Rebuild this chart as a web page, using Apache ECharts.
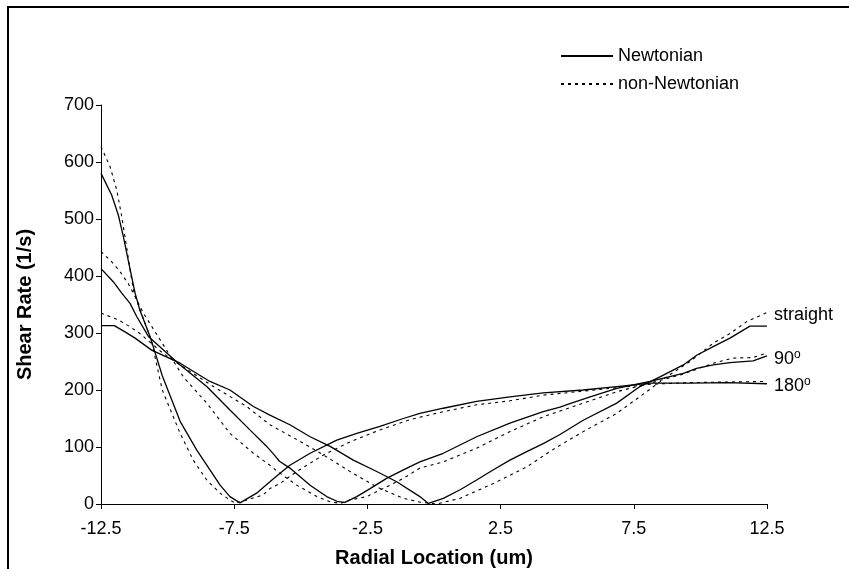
<!DOCTYPE html>
<html>
<head>
<meta charset="utf-8">
<script src="https://cdn.jsdelivr.net/npm/echarts@6/dist/echarts.min.js"></script>
<style>
html,body{margin:0;padding:0;background:#fff;}
#chart{width:849px;height:569px;}
</style>
</head>
<body>
<div id="chart"></div>
<script>
// ---- data ----
const xTicks = [-12.5, -7.5, -2.5, 2.5, 7.5, 12.5];
const legendNames = ['Newtonian', 'non-Newtonian'];
const curveLabels = ['straight', '90{s|o}', '180{s|o}'];

const straightNewtX = [-12.5,-12.0,-11.6,-11.22,-10.6,-9.53,-8.41,-7.66,-6.78,-6.16,-5.41,-4.65,-3.9,-3.03,-2.15,-1.4,-0.53,-0.21,0.35,0.98,1.6,2.23,2.85,3.48,4.1,4.73,5.6,6.86,7.73,8.48,9.36,9.86,10.48,11.11,11.86,12.5];
const straightNewtY = [313,313,302,291,270,247,215,200,171,156,139,118,101,77,57,39,13,1,10,25,42,60,77,92,106,122,147,177,206,223,244,261,276,291,312,312];

const straightNonX = [-12.5,-11.85,-11.41,-11.04,-10.16,-9.53,-8.28,-7.03,-6.16,-5.15,-4.15,-3.15,-2.15,-1.15,-0.5,0.1,0.98,2.23,3.48,4.35,4.73,5.6,6.86,7.98,8.73,9.61,10.48,11.11,11.74,12.5];
const straightNonY = [335,323,311,299,264,244,206,171,139,113,86,57,30,10,3,0,10,36,65,92,103,127,159,197,223,250,282,299,320,336];

const deg90NewtX = [-12.5,-12.04,-11.72,-11.41,-11.16,-10.72,-9.53,-8.53,-7.66,-6.91,-6.28,-6.03,-5.8,-5.41,-4.65,-4.03,-3.6,-3.35,-2.9,-2.4,-1.78,-1.15,-0.53,0.35,1.6,2.85,4.1,4.73,5.1,5.86,6.86,8.11,9.36,9.86,10.48,11.11,11.98,12.5];
const deg90NewtY = [413,390,370,352,329,294,244,206,165,130,101,88,75,63,33,13,4,3,13,27,45,60,74,89,118,142,162,170,176,188,203,215,229,238,244,248,251,260];

const deg90NonX = [-12.5,-12.1,-11.79,-11.48,-11.22,-10.91,-9.41,-8.53,-7.66,-6.78,-6.16,-5.9,-5.15,-4.4,-3.9,-3.5,-3.15,-2.53,-1.78,-1.15,-0.53,0.35,1.6,2.85,4.1,4.73,5.6,6.86,8.11,9.36,10.48,11.23,11.98,12.5];
const deg90NonY = [443,425,408,387,364,335,223,177,124,89,68,58,33,13,4,1,7,13,30,45,63,74,98,127,153,163,177,197,212,228,247,256,257,265];

const deg180NewtX = [-12.5,-12.1,-11.85,-11.66,-11.48,-11.35,-11.22,-11.04,-10.85,-10.66,-10.2,-9.53,-8.91,-8.41,-8.03,-7.66,-7.28,-6.66,-6.16,-5.78,-5.41,-4.65,-3.65,-2.9,-2.03,-1.15,-0.53,0.35,1.6,2.85,4.1,5.6,6.86,8.11,9.61,11.0,12.5];
const deg180NewtY = [580,542,507,469,428,399,370,340,317,294,225,145,95,60,33,13,2,19,39,54,68,89,112,124,136,150,159,168,180,188,195,200,206,212,212,213,211];

const deg180NonX = [-12.5,-12.16,-11.91,-11.72,-11.54,-11.39,-11.26,-10.94,-10.6,-10.2,-9.53,-9.04,-8.53,-8.03,-7.66,-7.45,-6.41,-6.16,-5.78,-5.15,-4.15,-3.15,-2.03,-0.9,0.35,1.6,2.85,4.1,4.73,5.6,6.86,8.11,9.61,11.0,12.5];
const deg180NonY = [627,592,551,504,451,405,370,329,285,200,124,77,42,19,7,1,16,27,36,57,86,109,130,148,162,174,181,191,194,198,204,210,213,214,215];

// ---- chart ----
const FONT = '"Liberation Sans", Arial, sans-serif';
function zip(xs, ys) { return xs.map((x, i) => [x, ys[i]]); }
function mk(nameIdx, xs, ys, label, dy) {
  const dotted = nameIdx === 1;
  const s = {
    type: 'line',
    name: legendNames[nameIdx],
    data: zip(xs, ys),
    showSymbol: false,
    symbol: 'none',
    smooth: false,
    silent: true,
    lineStyle: dotted ? { color: '#000', width: 1.1, type: [3, 4] } : { color: '#000', width: 1.3, type: 'solid' },
    itemStyle: { color: '#000' },
    z: dotted ? 2 : 3
  };
  if (label) {
    s.endLabel = {
      show: true,
      formatter: label,
      distance: 7,
      offset: [0, dy || 0],
      color: '#000',
      fontSize: 18,
      fontFamily: FONT,
      rich: { s: { fontSize: 12, fontFamily: FONT, color: '#000', verticalAlign: 'top', lineHeight: 20 } }
    };
  }
  return s;
}

const chart = echarts.init(document.getElementById('chart'), null, { renderer: 'canvas' });
chart.setOption({
  animation: false,
  backgroundColor: '#fff',
  textStyle: { fontFamily: FONT },
  grid: { left: 101, right: 82, top: 105, bottom: 65, containLabel: false, outerBoundsMode: 'none' },
  legend: {
    data: legendNames,
    orient: 'vertical',
    left: 555, top: 42,
    itemWidth: 52, itemHeight: 10, itemGap: 10,
    itemStyle: { opacity: 0 },
    textStyle: { fontSize: 18, color: '#000', fontFamily: FONT },
    selectedMode: false
  },
  xAxis: {
    type: 'value', min: -12.5, max: 12.5,
    axisLine: { onZero: false, lineStyle: { color: '#000', width: 1 } },
    axisTick: { customValues: xTicks, length: 5, lineStyle: { color: '#000' } },
    axisLabel: { customValues: xTicks, fontSize: 18, color: '#000', margin: 16, fontFamily: FONT },
    splitLine: { show: false },
    name: 'Radial Location (um)', nameLocation: 'middle', nameGap: 44,
    nameTextStyle: { fontSize: 20, fontWeight: 'bold', color: '#000', fontFamily: FONT }
  },
  yAxis: {
    type: 'value', min: 0, max: 700, interval: 100,
    axisLine: { show: true, onZero: false, lineStyle: { color: '#000', width: 1 } },
    axisTick: { show: true, length: 5, lineStyle: { color: '#000' } },
    axisLabel: { fontSize: 18, color: '#000', margin: 7, fontFamily: FONT },
    splitLine: { show: false },
    name: 'Shear Rate (1/s)', nameLocation: 'middle', nameGap: 66,
    nameTextStyle: { fontSize: 20, fontWeight: 'bold', color: '#000', fontFamily: FONT }
  },
  graphic: [{
    type: 'rect', silent: true, z: 100,
    shape: { x: 8, y: 7, width: 900, height: 700 },
    style: { fill: 'none', stroke: '#000', lineWidth: 2 }
  }],
  series: [
    mk(0, straightNewtX, straightNewtY, null),
    mk(1, straightNonX, straightNonY, curveLabels[0], 3),
    mk(0, deg90NewtX, deg90NewtY, curveLabels[1], 3),
    mk(1, deg90NonX, deg90NonY, null),
    mk(0, deg180NewtX, deg180NewtY, curveLabels[2], 2),
    mk(1, deg180NonX, deg180NonY, null)
  ]
});
</script>
</body>
</html>
